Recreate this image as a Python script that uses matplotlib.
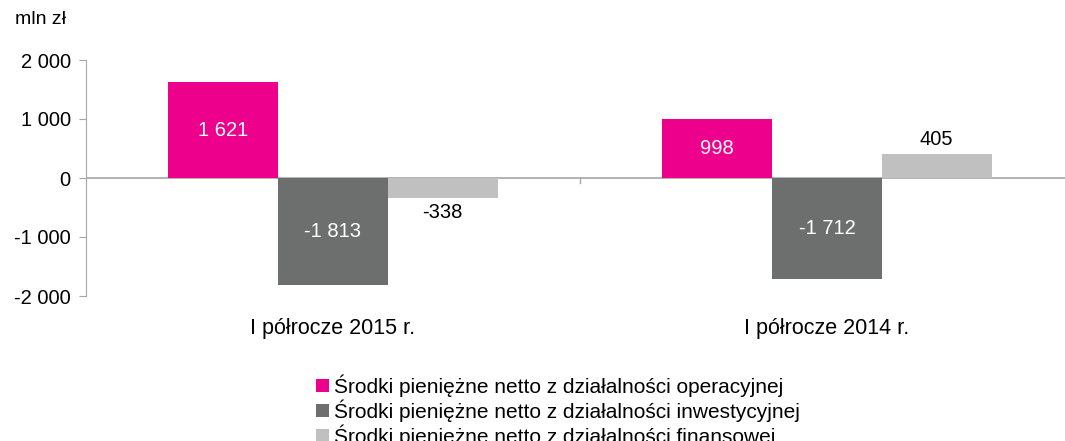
import matplotlib
matplotlib.use("Agg")
import matplotlib.pyplot as plt
import numpy as np

plt.rcParams["font.family"] = ["Liberation Sans", "DejaVu Sans"]

categories = ["I półrocze 2015 r.", "I półrocze 2014 r."]
series = [
    "Środki pieniężne netto z działalności operacyjnej",
    "Środki pieniężne netto z działalności inwestycyjnej",
    "Środki pieniężne netto z działalności finansowej",
]
operacyjne = [1621, 998]
inwestycyjne = [-1813, -1712]
finansowe = [-338, 405]
colors = ["#EC008C", "#6D6F6F", "#C0C0C0"]
inside = [True, True, False]
yticks = [-2000, -1000, 0, 1000, 2000]


def fmt(v):
    s = "{:,}".format(abs(int(v))).replace(",", " ")
    return ("-" if v < 0 else "") + s


W, H = 1065, 441
fig = plt.figure(figsize=(W / 100, H / 100), dpi=100)
ax = fig.add_axes([86 / W, (H - 296) / H, 988 / W, 236 / H])

x = np.arange(len(categories))
bw = 0.222
for k, (vals, col, ins) in enumerate(zip([operacyjne, inwestycyjne, finansowe], colors, inside)):
    xs = x + (k - 1) * bw
    ax.bar(xs, vals, width=bw, color=col, label=series[k], zorder=2)
    for xi, v in zip(xs, vals):
        if ins:
            ax.text(xi, v / 2, fmt(v), ha="center", va="center", color="white", fontsize=14.5)
        else:
            off = 90 if v >= 0 else -90
            ax.text(xi, v + off, fmt(v), ha="center", va="bottom" if v >= 0 else "top",
                    color="black", fontsize=14.5)

ax.set_xlim(-0.5, 1.5)
ax.set_ylim(-2000, 2000)
ax.set_yticks(yticks)
ax.set_yticklabels([fmt(t) for t in yticks], fontsize=14.5)
ax.set_xticks(x)
ax.set_xticklabels(categories, fontsize=15.5)
ax.tick_params(axis="x", length=0, pad=16)
ax.tick_params(axis="y", length=5, color="#A6A6A6", pad=6)

for s in ["top", "right", "bottom"]:
    ax.spines[s].set_visible(False)
ax.spines["left"].set_color("#A6A6A6")
ax.axhline(0, color="#A6A6A6", lw=1.2, zorder=1)
ax.plot([0.5, 0.5], [0, -90], color="#A6A6A6", lw=1, clip_on=False)

fig.text(15 / W, 1 - 20 / H, "mln zł", fontsize=14, va="center", ha="left")

leg = fig.legend(loc="upper left", bbox_to_anchor=(306 / W, 1 - 364 / H), frameon=False,
                 fontsize=15, handlelength=0.6, handleheight=0.6, handletextpad=0.25,
                 labelspacing=0.12, borderpad=0)

fig.savefig("out.png", dpi=100)
